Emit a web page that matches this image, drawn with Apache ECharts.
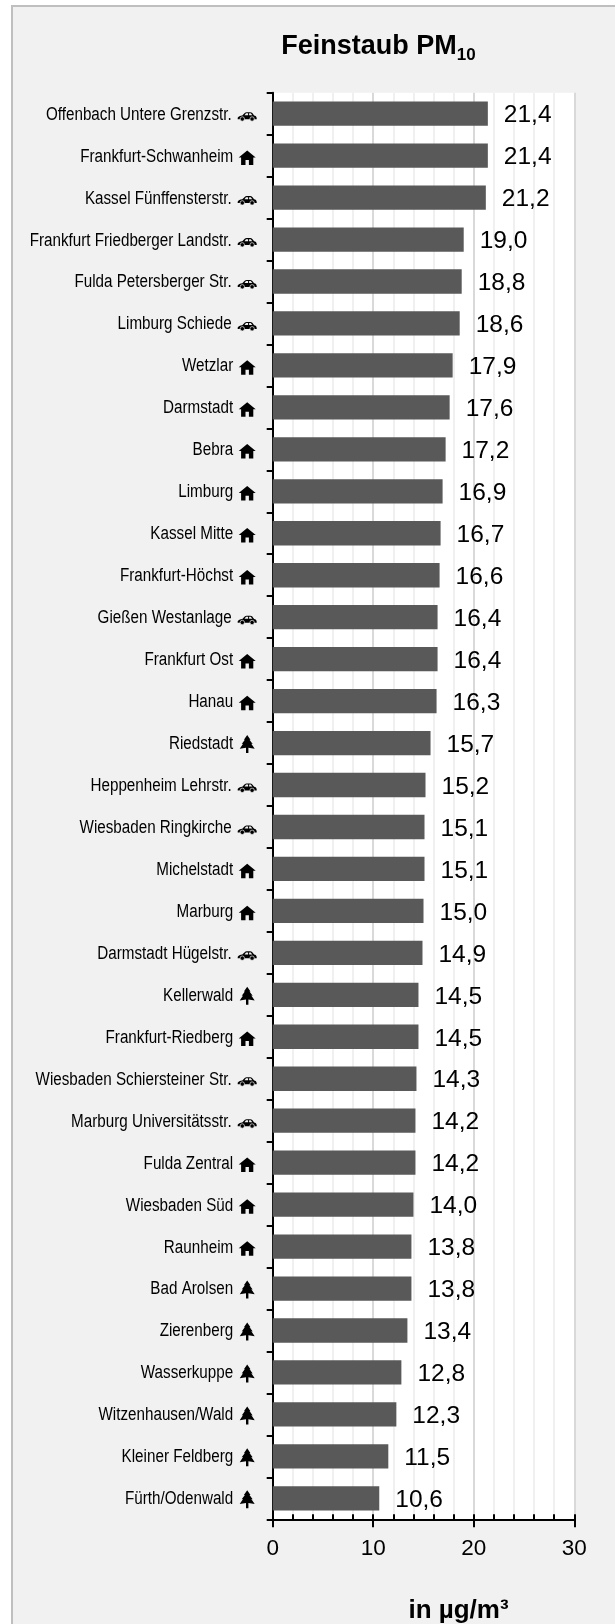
<!DOCTYPE html>
<html><head><meta charset="utf-8">
<script src="https://cdn.jsdelivr.net/npm/echarts@6/dist/echarts.min.js"></script>
<style>
html,body{margin:0;padding:0;background:#fff;width:615px;height:1624px;overflow:hidden}
#panel{position:absolute;left:11px;top:5px;width:604px;height:1619px;background:#f1f1f1;border-left:2px solid #bfbfbf;border-top:2px solid #bfbfbf;box-sizing:border-box}
#main{position:absolute;left:0;top:0;width:615px;height:1624px}
</style></head><body>
<div id="panel"></div><div id="main"></div>
<script>
const categories=["Offenbach Untere Grenzstr.","Frankfurt-Schwanheim","Kassel Fünffensterstr.","Frankfurt Friedberger Landstr.","Fulda Petersberger Str.","Limburg Schiede","Wetzlar","Darmstadt","Bebra","Limburg","Kassel Mitte","Frankfurt-Höchst","Gießen Westanlage","Frankfurt Ost","Hanau","Riedstadt","Heppenheim Lehrstr.","Wiesbaden Ringkirche","Michelstadt","Marburg","Darmstadt Hügelstr.","Kellerwald","Frankfurt-Riedberg","Wiesbaden Schiersteiner Str.","Marburg Universitätsstr.","Fulda Zentral","Wiesbaden Süd","Raunheim","Bad Arolsen","Zierenberg","Wasserkuppe","Witzenhausen/Wald","Kleiner Feldberg","Fürth/Odenwald"];
const values=[21.4,21.4,21.2,19.0,18.8,18.6,17.9,17.6,17.2,16.9,16.7,16.6,16.4,16.4,16.3,15.7,15.2,15.1,15.1,15.0,14.9,14.5,14.5,14.3,14.2,14.2,14.0,13.8,13.8,13.4,12.8,12.3,11.5,10.6];
const stationTypes=["car","house","car","car","car","car","house","house","house","house","house","house","car","house","house","tree","car","car","house","house","car","tree","house","car","car","house","house","house","tree","tree","tree","tree","tree","tree"];
const PANEL='#f1f1f1';
const icons={
 car:{w:19,h:9,dy:3,nudge:0,parts:[
  {d:'M0 5.6 C.5 4 2.5 3.4 4.6 3.2 L7 .8 C7.5 .3 8.2 0 9 0 L12.4 0 C13.4 0 14 .3 14.6 .9 L16.4 3.2 C17.8 3.5 19 4.2 19 6 L19 7 L0 7 Z',fill:'#000'},
  {d:'M6.8 3.1 L8.3 1.1 L10.4 1.1 L10.4 3.1 Z M11.4 1.1 L13 1.1 L14.6 3.1 L11.4 3.1 Z',fill:PANEL}],
  wheels:[[4.6,6.8],[14.4,6.8]]},
 house:{w:17,h:14.5,dy:2,nudge:1.5,parts:[{d:'M8.5 0 L17 7 L14.6 7 L14.6 14.5 L10.2 14.5 L10.2 9.6 L6.8 9.6 L6.8 14.5 L2.4 14.5 L2.4 7 L0 7 Z',fill:'#000'}]},
 tree:{w:15,h:18,dy:1,nudge:1.5,parts:[{d:'M7.5 0 L10.8 4.8 L9.8 4.6 L13 9 L11.6 8.7 L15 13.8 L8.7 12.8 L8.7 18 L6.3 18 L6.3 12.8 L0 13.8 L3.4 8.7 L2 9 L5.2 4.6 L4.2 4.8 Z',fill:'#000'}]}
};
const chart=echarts.init(document.getElementById('main'),null,{renderer:'canvas'});
function renderStation(params,api){
 const i=api.value(1);
 const p=api.coord([0,i]);
 const icon=icons[stationTypes[i]];
 const textRight=p[0]-41+icon.nudge;
 const cx=p[0]-25.5, cy=p[1]+icon.dy;
 const left=cx-icon.w/2, top=cy-icon.h/2;
 const children=[{type:'text',x:textRight,y:p[1]+1,scaleX:0.845,silent:true,
   style:{text:categories[i],fontFamily:'Liberation Sans',fontSize:18,fill:'#000',align:'right',verticalAlign:'middle'}}];
 icon.parts.forEach(q=>children.push({type:'path',silent:true,x:left,y:top,shape:{pathData:q.d,layout:'none'},style:{fill:q.fill}}));
 (icon.wheels||[]).forEach(w=>children.push({type:'circle',silent:true,shape:{cx:left+w[0],cy:top+w[1],r:2.2},style:{fill:'#000',stroke:PANEL,lineWidth:.7}}));
 return {type:'group',children};
}
chart.setOption({
 animation:false,
 backgroundColor:'transparent',
 title:[
  {text:'{a|Feinstaub PM}{b|10}',left:373.5,top:26,textAlign:'center',textStyle:{rich:{
    a:{fontFamily:'Liberation Sans',fontWeight:'bold',fontSize:27,color:'#000',lineHeight:32},
    b:{fontFamily:'Liberation Sans',fontWeight:'bold',fontSize:17,color:'#000',padding:[16,0,0,0],lineHeight:32}}}},
  {text:'in µg/m³',left:453.5,top:1593,textAlign:'center',textStyle:{fontFamily:'Liberation Sans',fontWeight:'bold',fontSize:26,color:'#000'}}
 ],
 grid:{left:272.7,top:92.7,width:301.6,height:1426.6,show:true,backgroundColor:'#fff',borderWidth:0,containLabel:false},
 yAxis:{type:'category',data:categories,inverse:true,
  axisLine:{show:true,lineStyle:{color:'#000',width:2}},
  axisTick:{show:true,length:6,alignWithLabel:false,lineStyle:{color:'#000',width:2}},
  axisLabel:{show:false}},
 xAxis:[
  {type:'value',min:0,max:30,interval:10,position:'bottom',
   axisLine:{show:true,onZero:false,lineStyle:{color:'#000',width:2}},
   axisTick:{show:true,length:8,lineStyle:{color:'#000',width:2}},
   minorTick:{show:false,splitNumber:5},
   splitLine:{show:true,lineStyle:{color:'#d9d9d9',width:2}},
   minorSplitLine:{show:true,lineStyle:{color:'#f0f0f0',width:2}},
   axisLabel:{margin:18,fontFamily:'Liberation Sans',fontSize:22.5,color:'#000'}},
  {type:'value',min:0,max:30,interval:2,position:'bottom',
   axisLine:{show:false,onZero:false},
   axisTick:{show:true,inside:true,length:5,lineStyle:{color:'#000',width:2}},
   splitLine:{show:false},axisLabel:{show:false}}
 ],
 series:[
  {type:'bar',data:values,xAxisIndex:0,barWidth:24.3,
   itemStyle:{color:'#595959'},
   label:{show:true,position:'right',distance:16,offset:[0,2],fontFamily:'Liberation Sans',fontSize:24.5,color:'#000',formatter:p=>p.value.toFixed(1).replace('.',',')}},
  {type:'custom',xAxisIndex:0,renderItem:renderStation,clip:false,silent:true,
   data:categories.map((c,i)=>[0,i]),encode:{x:0,y:1}}
 ]
});
</script></body></html>
